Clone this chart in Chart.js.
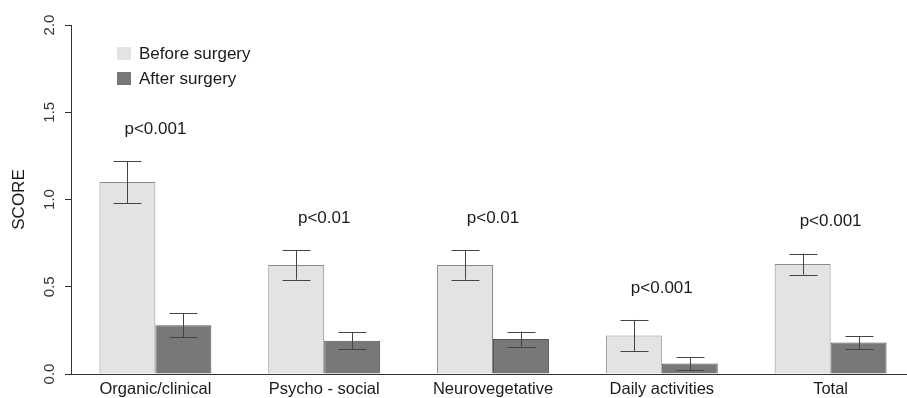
<!DOCTYPE html>
<html lang="en">
<head>
    <meta charset="UTF-8">
    <title>Score before and after surgery</title>
    <script src="https://cdn.jsdelivr.net/npm/chart.js"></script>
    <style>
        html, body { margin: 0; padding: 0; background: #fff; overflow: hidden; }
        #wrap { width: 915px; height: 398px; }
    </style>
</head>
<body>
    <div id="wrap">
        <canvas id="scoreChart" width="915" height="398"></canvas>
    </div>

<script>
// data
const categories = ['Organic/clinical', 'Psycho - social', 'Neurovegetative', 'Daily activities', 'Total'];
const beforeScore = [1.10, 0.625, 0.625, 0.22, 0.63];
const afterScore = [0.28, 0.19, 0.20, 0.06, 0.18];
const beforeErr = [0.12, 0.085, 0.085, 0.09, 0.06];
const afterErr = [0.07, 0.048, 0.043, 0.037, 0.036];
const pValues = ['p<0.001', 'p<0.01', 'p<0.01', 'p<0.001', 'p<0.001'];
const yTicks = [0, 0.5, 1.0, 1.5, 2.0];

const errors = [beforeErr, afterErr];
const FONT = "'Liberation Sans', Arial, sans-serif";

// error bars, p-values and the legend box in the top left corner
const extras = {
    id: 'extras',
    afterDatasetsDraw(chart) {
        const ctx = chart.ctx;
        const y = chart.scales.y;
        const x = chart.scales.x;
        const tops = categories.map(() => Infinity);

        ctx.save();
        ctx.strokeStyle = '#444';
        ctx.lineWidth = 1;
        chart.data.datasets.forEach((ds, d) => {
            chart.getDatasetMeta(d).data.forEach((bar, i) => {
                const v = ds.data[i];
                const e = errors[d][i];
                const hi = y.getPixelForValue(v + e);
                const lo = y.getPixelForValue(v - e);
                const cx = Math.round(bar.x) + 0.5;
                const cap = bar.width / 4;
                ctx.beginPath();
                ctx.moveTo(cx, hi);
                ctx.lineTo(cx, lo);
                ctx.moveTo(cx - cap, Math.round(hi) + 0.5);
                ctx.lineTo(cx + cap, Math.round(hi) + 0.5);
                ctx.moveTo(cx - cap, Math.round(lo) + 0.5);
                ctx.lineTo(cx + cap, Math.round(lo) + 0.5);
                ctx.stroke();
                tops[i] = Math.min(tops[i], hi);
            });
        });

        ctx.fillStyle = '#1a1a1a';
        ctx.font = '17px ' + FONT;
        ctx.textAlign = 'center';
        ctx.textBaseline = 'middle';
        pValues.forEach((p, i) => {
            ctx.fillText(p, x.getPixelForValue(i), tops[i] - 32);
        });

        // legend
        ctx.textAlign = 'left';
        chart.data.datasets.forEach((ds, d) => {
            const top = 47 + d * 25;
            ctx.fillStyle = ds.backgroundColor;
            ctx.fillRect(117, top, 14, 13);
            ctx.fillStyle = '#1a1a1a';
            ctx.fillText(ds.label, 139, top + 7);
        });
        ctx.restore();
    }
};

new Chart(document.getElementById('scoreChart'), {
    type: 'bar',
    data: {
        labels: categories,
        datasets: [
            {
                label: 'Before surgery',
                data: beforeScore,
                backgroundColor: '#e3e3e3',
                borderColor: '#8a8a8a',
                borderWidth: 1
            },
            {
                label: 'After surgery',
                data: afterScore,
                backgroundColor: '#787878',
                borderColor: '#555555',
                borderWidth: 1
            }
        ]
    },
    options: {
        responsive: false,
        animation: false,
        devicePixelRatio: 1,
        categoryPercentage: 0.663,
        barPercentage: 1.0,
        layout: { padding: { top: 25, right: 0, bottom: 0, left: 0 } },
        plugins: {
            legend: { display: false },
            tooltip: { enabled: false }
        },
        scales: {
            x: {
                offset: true,
                grid: { display: false, drawTicks: false },
                border: { display: true, color: '#333', width: 1 },
                ticks: {
                    color: '#1a1a1a',
                    padding: 6,
                    maxRotation: 0,
                    autoSkip: false,
                    font: { family: FONT, size: 16.5 }
                },
                afterFit(scale) { scale.height = 24; }
            },
            y: {
                min: 0,
                max: 2,
                afterBuildTicks(scale) {
                    scale.ticks = yTicks.map(v => ({ value: v }));
                },
                grid: {
                    drawOnChartArea: false,
                    drawTicks: true,
                    tickLength: 6,
                    color: '#333'
                },
                border: { display: true, color: '#333', width: 1 },
                ticks: {
                    color: '#333',
                    padding: 5,
                    minRotation: 90,
                    maxRotation: 90,
                    crossAlign: 'center',
                    font: { family: FONT, size: 15 },
                    callback: v => v.toFixed(1)
                },
                title: {
                    display: true,
                    text: 'SCORE',
                    color: '#1a1a1a',
                    padding: { top: 9, bottom: 0 },
                    font: { family: FONT, size: 17 }
                },
                afterFit(scale) { scale.width = 71; }
            }
        }
    },
    plugins: [extras]
});
</script>
</body>
</html>
